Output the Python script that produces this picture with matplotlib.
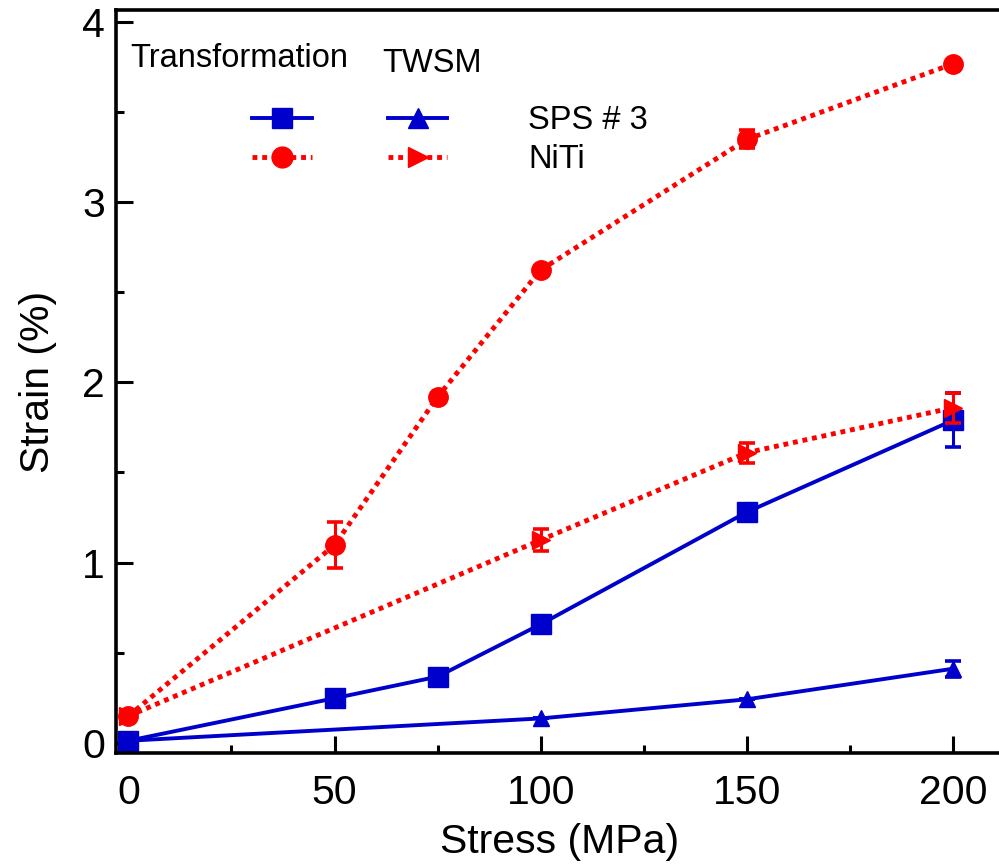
import matplotlib
matplotlib.use("Agg")
import matplotlib.pyplot as plt
from matplotlib.lines import Line2D
from matplotlib.ticker import MultipleLocator

plt.rcParams['font.family'] = ['Liberation Sans', 'DejaVu Sans']

# Stress levels (MPa)
stress_tr_sps = [0, 50, 75, 100, 150, 200]
stress_tr_niti = [0, 50, 75, 100, 150, 200]
stress_tw_sps = [0, 100, 150, 200]
stress_tw_niti = [0, 100, 150, 200]

# Transformation strain (%)
tr_sps = [0.01, 0.246, 0.366, 0.657, 1.28, 1.79]
tr_sps_err = [0.02, 0.0, 0.0, 0.0, 0.0, 0.15]
tr_niti = [0.147, 1.097, 1.92, 2.625, 3.35, 3.77]
tr_niti_err = [0.0, 0.13, 0.0, 0.0, 0.05, 0.0]

# Two-way shape memory strain (%)
tw_sps = [0.01, 0.134, 0.24, 0.41]
tw_sps_err = [0.0, 0.0, 0.0, 0.045]
tw_niti = [0.147, 1.125, 1.61, 1.86]
tw_niti_err = [0.0, 0.06, 0.055, 0.083]

legend_labels = ["", "", "SPS # 3", "NiTi"]

BLUE = "#0000CC"
RED = "#FF0000"

fig = plt.figure(figsize=(9.99, 8.67), dpi=100)
ax = fig.add_axes([0.1161, 0.1315, 0.8874, 0.857])

common = dict(capsize=6, elinewidth=2.2, capthick=2.6)
ax.errorbar(stress_tr_niti, tr_niti, yerr=tr_niti_err, color=RED, marker='o',
            ms=14, lw=3.5, ls=(0, (1, 1)), **common, zorder=3)
ax.errorbar(stress_tw_niti, tw_niti, yerr=tw_niti_err, color=RED, marker='>',
            ms=13, lw=3.5, ls=(0, (1, 1)), **common, zorder=3)
ax.errorbar(stress_tr_sps, tr_sps, yerr=tr_sps_err, color=BLUE, marker='s',
            ms=14, lw=2.8, ls='-', **common, zorder=2)
ax.errorbar(stress_tw_sps, tw_sps, yerr=tw_sps_err, color=BLUE, marker='^',
            ms=12, lw=2.8, ls='-', **common, zorder=2)

ax.set_xlim(-3, 212)
ax.set_ylim(-0.058, 4.069)
ax.xaxis.set_major_locator(MultipleLocator(50))
ax.xaxis.set_minor_locator(MultipleLocator(25))
ax.yaxis.set_major_locator(MultipleLocator(1))
ax.yaxis.set_minor_locator(MultipleLocator(0.5))

for s in ax.spines.values():
    s.set_linewidth(2.6)
ax.tick_params(which='both', direction='in', width=2.2, labelsize=29.5)
ax.tick_params(which='major', length=12)
ax.tick_params(which='minor', length=6)
ax.tick_params(axis='x', pad=15)
ax.tick_params(axis='y', pad=8)

ax.set_xlabel("Stress (MPa)", fontsize=29.5, labelpad=8)
ax.set_ylabel("Strain (%)", fontsize=29.5, labelpad=18)

# Legend: two marker columns (Transformation, TWSM) sharing one label column
handles = [
    Line2D([], [], color=BLUE, marker='s', ms=15, lw=2.8, ls='-'),
    Line2D([], [], color=RED, marker='o', ms=15, lw=3.5, ls=(0, (1, 1))),
    Line2D([], [], color=BLUE, marker='^', ms=15, lw=2.8, ls='-'),
    Line2D([], [], color=RED, marker='>', ms=15, lw=3.5, ls=(0, (1, 1))),
]
ax.legend(handles, legend_labels, ncol=2, loc='upper left',
          bbox_to_anchor=(0.1534, 0.872), frameon=False, fontsize=23.5,
          handlelength=1.83, handletextpad=2.48, columnspacing=-0.15,
          labelspacing=0.25, borderpad=0, borderaxespad=0)
ax.text(0.0158, 0.9237, "Transformation", transform=ax.transAxes,
        fontsize=23.5, va='baseline', ha='left')
ax.text(0.300, 0.917, "TWSM", transform=ax.transAxes,
        fontsize=23.5, va='baseline', ha='left')

fig.savefig("out.png", dpi=100)
